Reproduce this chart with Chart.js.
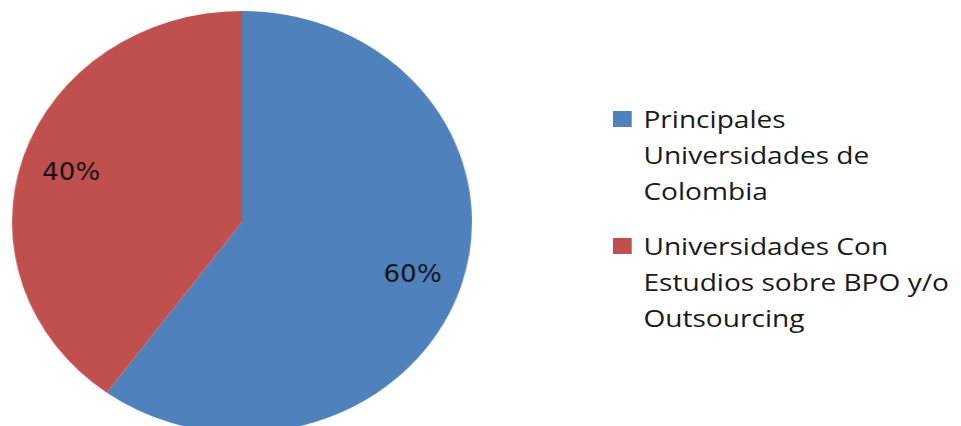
<!DOCTYPE html>
<html>
<head>
<meta charset="utf-8">
<script src="https://cdn.jsdelivr.net/npm/chart.js@4"></script>
<style>
    html, body { margin: 0; padding: 0; background: #fff; overflow: hidden; }
    body { width: 961px; height: 426px; position: relative; }
    #pieWrap {
        position: absolute; left: 0; top: 0;
        width: 444px; height: 444px;
        transform-origin: 0 0;
        transform: scaleX(1.09);
    }
    #legend {
        position: absolute; left: 613px; top: 101px;
        transform-origin: 0 0;
        transform: scaleX(1.17);
        font-family: "Open Sans", sans-serif; font-size: 24px; color: #1a1a1a;
        white-space: nowrap;
    }
    .item { position: relative; padding-left: 26px; line-height: 36px; margin-bottom: 19px; }
    .box { position: absolute; left: 0; top: 10px; width: 16px; height: 16px; }
</style>
</head>
<body>
<div id="pieWrap"><canvas id="pieChart" width="444" height="444"></canvas></div>
<div id="legend"></div>

<script>
const labels = [
    ["Principales", "Universidades de", "Colombia"],
    ["Universidades Con", "Estudios sobre BPO y/o", "Outsourcing"],
];
const values = [60, 40];
const colors = ["#4F81BD", "#C0504D"];

// legend
labels.forEach((lines, i) => {
    const item = document.createElement("div");
    item.className = "item";
    item.innerHTML = `<span class="box" style="background:` + colors[i] + `"></span>` + lines.join("<br>");
    document.getElementById("legend").appendChild(item);
});

// percent labels inside the slices
const pctLabels = {
    id: "pctLabels",
    afterDatasetsDraw(chart) {
        const ctx = chart.ctx;
        const total = values.reduce((a, b) => a + b, 0);
        ctx.save();
        ctx.font = "24px 'DejaVu Sans'";
        ctx.fillStyle = "#111";
        ctx.textAlign = "center";
        ctx.textBaseline = "middle";
        chart.getDatasetMeta(0).data.forEach((arc, i) => {
            const p = arc.getProps(["x", "y", "startAngle", "endAngle", "outerRadius"]);
            const mid = (p.startAngle + p.endAngle) / 2;
            const r = p.outerRadius * 0.78;
            const txt = Math.round((values[i] / total) * 100) + "%";
            ctx.fillText(txt, p.x + Math.cos(mid) * r, p.y + Math.sin(mid) * r + 3);
        });
        ctx.restore();
    },
};

const config = {
    type: "pie",
    data: {
        labels: labels.map((l) => l.join(" ")),
        datasets: [
            {
                data: values,
                backgroundColor: colors,
                borderWidth: 0,
            },
        ],
    },
    options: {
        responsive: false,
        animation: false,
        layout: { padding: 11 },
        plugins: {
            legend: { display: false },
            tooltip: { enabled: false },
        },
    },
    plugins: [pctLabels],
};

new Chart(document.getElementById("pieChart"), config);
</script>
</body>
</html>
